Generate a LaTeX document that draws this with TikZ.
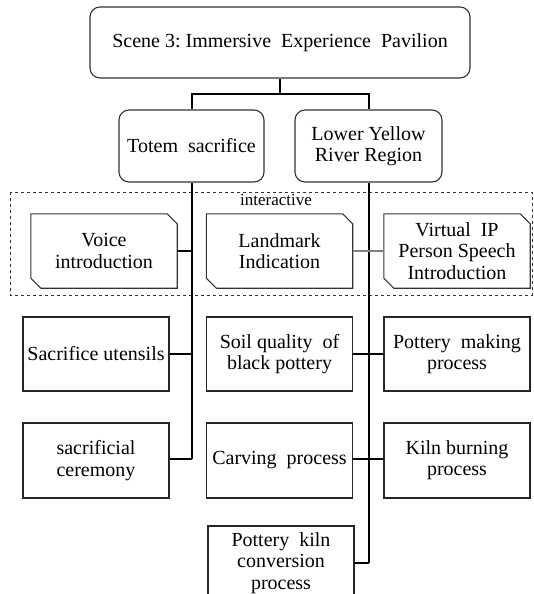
\documentclass[tikz,border=0pt]{standalone}
\usepackage{fontspec}
\setmainfont{Liberation Serif}
\begin{document}
\begin{tikzpicture}[x=1pt,y=-1pt,
  txt/.style={font=\fontsize{20}{21.3}\selectfont, align=center, inner sep=0pt},
  rbox/.style={txt, draw=black!80, line width=1.1pt, rounded corners=10pt},
  sbox/.style={txt, draw=black!85, line width=1.1pt, minimum width=146pt, minimum height=74pt},
  cbox/.style={txt, minimum width=146pt, minimum height=74pt},
  conn/.style={line width=2pt, black},
  gconn/.style={line width=1.8pt, black!50}]
\clip (0,0) rectangle (534,594);
\fill[white] (0,0) rectangle (534,594);
% dashed interactive region
\draw[dashed, black!80, line width=0.8pt] (10,192) rectangle (532,295);
\node[font=\fontsize{17}{19}\selectfont, inner sep=0pt] (inter) at (276,200) {interactive};
% top
\node[rbox, minimum width=380pt, minimum height=71pt] (top) at (280,42.5) {Scene 3:\ Immersive\ \ Experience\ \ Pavilion};
\node[rbox, minimum width=145pt, minimum height=72pt] (totem) at (191.5,146) {Totem\ \ sacrifice};
\node[rbox, minimum width=147pt, minimum height=72pt] (lower) at (368.5,146) {Lower Yellow\\River Region};
% chamfered boxes
\newcommand\chamfbox[1]{\draw[black!80, line width=1.1pt] (#1.north west) -- ([xshift=-10pt]#1.north east) -- ([yshift=-10pt]#1.north east) -- (#1.south east) -- ([xshift=10pt]#1.south west) -- ([yshift=10pt]#1.south west) -- cycle;}
\node[cbox] (voice) at (104,251) {Voice\\introduction};
\node[cbox] (land) at (279.5,251) {Landmark\\Indication};
\node[cbox] (virt) at (457,251) {Virtual\ \ IP\\Person Speech\\Introduction};
\chamfbox{voice}\chamfbox{land}\chamfbox{virt}
% square boxes
\node[sbox] (utens) at (96,354) {Sacrifice utensils};
\node[sbox] (soil) at (279.5,354) {Soil quality\ \ of\\black pottery};
\node[sbox] (making) at (457,354) {Pottery\ \ making\\process};
\node[sbox, minimum height=75pt] (cere) at (96,460.5) {sacrificial\\ceremony};
\node[sbox, minimum height=75pt] (carv) at (279.5,460.5) {Carving\ \ process};
\node[sbox, minimum height=75pt] (kiln) at (457,460.5) {Kiln burning\\process};
\node[sbox] (conv) at (281,563) {Pottery\ \ kiln\\conversion\\process};
% connectors
\coordinate (hb) at (280,94);
\coordinate (lv) at (191,459);
\coordinate (rv) at (368,563);
\draw[conn] (top.south) -- (hb);
\draw[conn] (totem.north) |- (hb) -| (lower.north);
\draw[conn] (totem.south) -- (totem.south |- lv);
\draw[conn] (lower.south) -- (lower.south |- rv);
\draw[conn] (voice.east) -- (voice.east -| totem.south);
\draw[gconn] (land.east) -- (land.east -| lower.south);
\draw[gconn] (virt.west) -- (virt.west -| lower.south);
\draw[conn] (utens.east) -- (utens.east -| totem.south);
\draw[conn] (cere.east |- lv) -- (lv -| totem.south);
\draw[conn] (soil.east) -- (making.west);
\draw[conn] (carv.east |- lv) -- (kiln.west |- lv);
\draw[conn] (conv.east |- rv) -- (rv -| lower.south);
\end{tikzpicture}
\end{document}
